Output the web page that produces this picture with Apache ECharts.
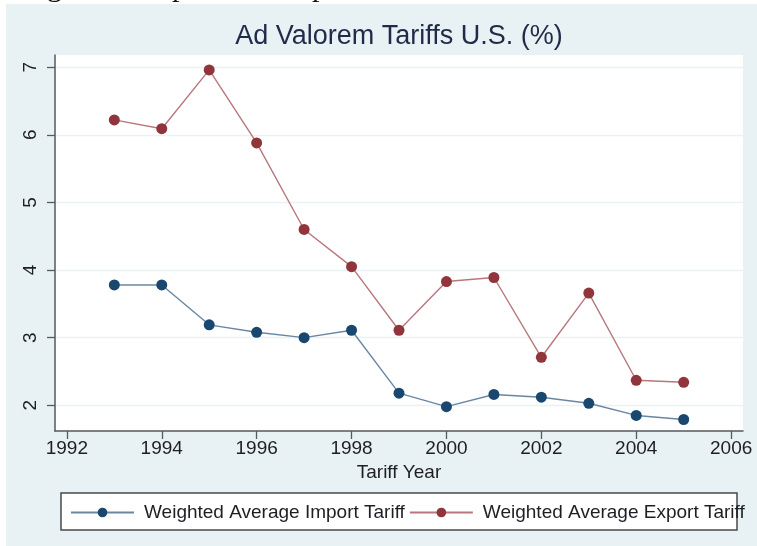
<!DOCTYPE html>
<html>
<head>
<meta charset="utf-8">
<script src="https://cdn.jsdelivr.net/npm/echarts@6/dist/echarts.min.js"></script>
<style>
  html, body { margin: 0; padding: 0; background: #fff; }
  #chart { width: 757px; height: 546px; }
</style>
</head>
<body>
<div id="chart"></div>
<script>
// values
var years = [1993, 1994, 1995, 1996, 1997, 1998, 1999, 2000, 2001, 2002, 2003, 2004, 2005];
var importTariff = [3.78, 3.78, 3.19, 3.08, 3.00, 3.11, 2.18, 1.98, 2.16, 2.12, 2.03, 1.85, 1.79];
var exportTariff = [6.22, 6.09, 6.96, 5.88, 4.60, 4.05, 3.11, 3.83, 3.89, 2.71, 3.66, 2.37, 2.34];
var xTicks = [1992, 1994, 1996, 1998, 2000, 2002, 2004, 2006];
var yTicks = [2, 3, 4, 5, 6, 7];

function pairs(vals) {
    var out = [];
    for (var i = 0; i < years.length; i++) {
        out.push([years[i], vals[i]]);
    }
    return out;
}

var txt = '#1e1e24';
var axisCol = '#555a5e';

var myChart = echarts.init(document.getElementById('chart'));
myChart.setOption({
    animation: false,
    graphic: [
        { type: 'rect', z: -10, shape: { x: 6, y: 4, width: 760, height: 560 },
          style: { fill: '#e8f1f3' }, silent: true },
        // caption line of the page above, only its descenders show
        { type: 'text', z: -5, left: 22, top: -27,
          style: { text: 'Figure 2: Import and Export Tariffs', font: '30px "Liberation Serif"', fill: '#111' } },
        // legend frame
        { type: 'rect', z: 1, shape: { x: 61, y: 493, width: 676, height: 37 },
          style: { fill: '#fff', stroke: '#4a4a4a', lineWidth: 1.5 } }
    ],
    title: {
        text: 'Ad Valorem Tariffs U.S. (%)',
        left: 399,
        top: 23,
        textAlign: 'center',
        padding: 0,
        textStyle: { fontFamily: 'Liberation Sans', fontSize: 27, fontWeight: 'normal', color: '#1f2b48' }
    },
    legend: {
        left: 70,
        top: 503,
        padding: 0,
        itemWidth: 63,
        itemHeight: 12,
        itemGap: 4,
        textStyle: { fontFamily: 'Liberation Sans', fontSize: 19, color: txt, padding: [0, 0, 0, 5] },
        data: ['Weighted Average Import Tariff', 'Weighted Average Export Tariff']
    },
    grid: {
        left: 55, top: 55, width: 688, height: 376,
        show: true, backgroundColor: '#fff', borderWidth: 0
    },
    xAxis: {
        type: 'value',
        min: 1991.75,
        max: 2006.25,
        name: 'Tariff Year',
        nameLocation: 'middle',
        nameGap: 29,
        nameTextStyle: { fontFamily: 'Liberation Sans', fontSize: 19, color: txt },
        axisLine: { show: true, lineStyle: { color: axisCol, width: 1.5 } },
        axisTick: { show: true, length: 8, customValues: xTicks, lineStyle: { color: axisCol, width: 1.3 } },
        axisLabel: {
            margin: 8, customValues: xTicks, fontFamily: 'Liberation Sans', fontSize: 19, color: txt,
            formatter: function (v) { return String(v); }
        },
        splitLine: { show: false }
    },
    yAxis: {
        type: 'value',
        min: 1.62,
        max: 7.18,
        axisLine: { show: true, lineStyle: { color: axisCol, width: 1.5 } },
        axisTick: { show: true, length: 8, customValues: yTicks, lineStyle: { color: axisCol, width: 1.3 } },
        axisLabel: { margin: 15, rotate: 90, customValues: yTicks, fontFamily: 'Liberation Sans', fontSize: 19, color: txt },
        splitLine: { show: true, lineStyle: { color: '#eaf2f4', width: 1.3 } }
    },
    series: [
        {
            name: 'Weighted Average Import Tariff',
            type: 'line',
            data: pairs(importTariff),
            symbol: 'circle',
            symbolSize: 11,
            itemStyle: { color: '#1a476f' },
            lineStyle: { color: '#6a86a3', width: 1.4 }
        },
        {
            name: 'Weighted Average Export Tariff',
            type: 'line',
            data: pairs(exportTariff),
            symbol: 'circle',
            symbolSize: 11,
            itemStyle: { color: '#90353b' },
            lineStyle: { color: '#b7777c', width: 1.4 }
        }
    ]
});
</script>
</body>
</html>
